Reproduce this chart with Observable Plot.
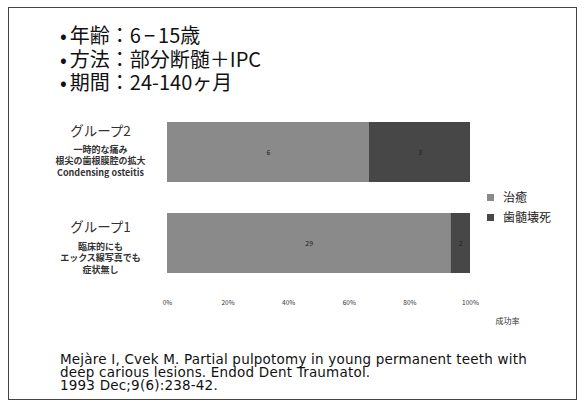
<!DOCTYPE html>
<html><head><meta charset="utf-8">
<script src="https://cdn.jsdelivr.net/npm/d3@7"></script>
<script src="https://cdn.jsdelivr.net/npm/@observablehq/plot@0.6"></script>
<style>
html,body{margin:0;padding:0;background:#fff;}
#wrap{position:relative;width:586px;height:410px;overflow:hidden;font-family:"Noto Sans CJK JP","Noto Sans",sans-serif;}
#frame{position:absolute;left:8px;top:7px;width:569px;height:393px;border:1px solid #444;box-sizing:border-box;}
#title{position:absolute;left:60px;top:23px;font-size:20px;line-height:23.5px;color:#111;}
#title .b{margin-right:3px;}
#chart{position:absolute;left:0;top:100px;}
#legend{position:absolute;left:487px;top:187px;font-size:12px;line-height:20px;color:#222;}
#legend .sw{display:inline-block;width:7px;height:7px;margin-right:9px;vertical-align:1px;}
#caption{position:absolute;left:60px;top:353px;font-family:"DejaVu Sans",sans-serif;font-size:13.5px;line-height:13px;color:#111;letter-spacing:0.2px;}
</style></head>
<body><div id="wrap"><div id="frame"></div><div id="title"></div><div id="chart"></div><div id="legend"></div><div id="caption"></div></div>
<script>
const titleLines = ["年齢：6−15歳", "方法：部分断髄＋IPC", "期間：24-140ヶ月"];
const groups = ["グループ2", "グループ1"];
const groupNotes = [
  ["一時的な痛み", "根尖の歯根膜腔の拡大", "Condensing osteitis"],
  ["臨床的にも", "エックス線写真でも", "症状無し"]
];
const outcomes = ["治癒", "歯髄壊死"];
const healed = [6, 29];
const necrosis = [3, 2];
const colors = ["#8a8a8a", "#474747"];
const xTicks = [0, 0.2, 0.4, 0.6, 0.8, 1.0];
const xTickLabels = ["0%", "20%", "40%", "60%", "80%", "100%"];
const axisLabel = "成功率";
const captionLines = [
  "Mejàre I, Cvek M. Partial pulpotomy in young permanent teeth with",
  "deep carious lesions. Endod Dent Traumatol.",
  "1993 Dec;9(6):238-42."
];

document.getElementById("title").innerHTML = titleLines.map(t =>
  `<div><span class="b">•</span>${t.replace("−", '<span style="margin:0 3px">−</span>')}</div>`).join("");
document.getElementById("caption").innerHTML = captionLines.map(t => `<div>${t}</div>`).join("");
document.getElementById("legend").innerHTML = outcomes.map((o, i) =>
  `<div><span class="sw" style="background:${colors[i]}"></span>${o}</div>`).join("");

const rows = [];
groups.forEach((g, i) => {
  rows.push({group: g, outcome: outcomes[0], count: healed[i]});
  rows.push({group: g, outcome: outcomes[1], count: necrosis[i]});
});

const headDy = [-21, -16];
const noteDy = [-8, -2];
const labelMarks = [];
groups.forEach((g, i) => {
  labelMarks.push(Plot.text([g], {y: d => d, frameAnchor: "left", dx: -67, textAnchor: "middle",
    fontSize: 13.5, fill: "#333", dy: headDy[i], fontFamily: "Noto Sans CJK JP"}));
  labelMarks.push(Plot.text([groupNotes[i].join("\n")], {y: () => g, frameAnchor: "left", dx: -67, textAnchor: "middle",
    fontSize: 9, fontWeight: "bold", fill: "#333", dy: noteDy[i], lineAnchor: "top", lineHeight: 1.28, fontFamily: "Noto Sans CJK JP"}));
});

const plot = Plot.plot({
  width: 586,
  height: 240,
  marginLeft: 167,
  marginRight: 116,
  marginTop: 6.5,
  marginBottom: 51.5,
  style: {fontFamily: "Noto Sans CJK JP", background: "transparent"},
  x: {domain: [0, 1], axis: null},
  y: {domain: groups, paddingInner: 0.34, paddingOuter: 0.17, axis: null},
  color: {domain: outcomes, range: colors},
  marks: [
    Plot.barX(rows, Plot.stackX({x: "count", y: "group", fill: "outcome", offset: "normalize", order: outcomes})),
    Plot.text(rows, Plot.stackX({x: "count", y: "group", z: "outcome", offset: "normalize", order: outcomes,
      text: d => String(d.count), fill: "#222", fontSize: 7})),
    Plot.axisX({ticks: xTicks, tickFormat: (d, i) => xTickLabels[i], tickSize: 0, tickPadding: 11, fontSize: 6.5, fill: "#333", label: null}),
    Plot.text([axisLabel], {x: () => 1, frameAnchor: "bottom", dx: 37, dy: 35, fontSize: 8, fill: "#333"}),
    ...labelMarks
  ]
});
document.getElementById("chart").appendChild(plot);
</script>
</body></html>
